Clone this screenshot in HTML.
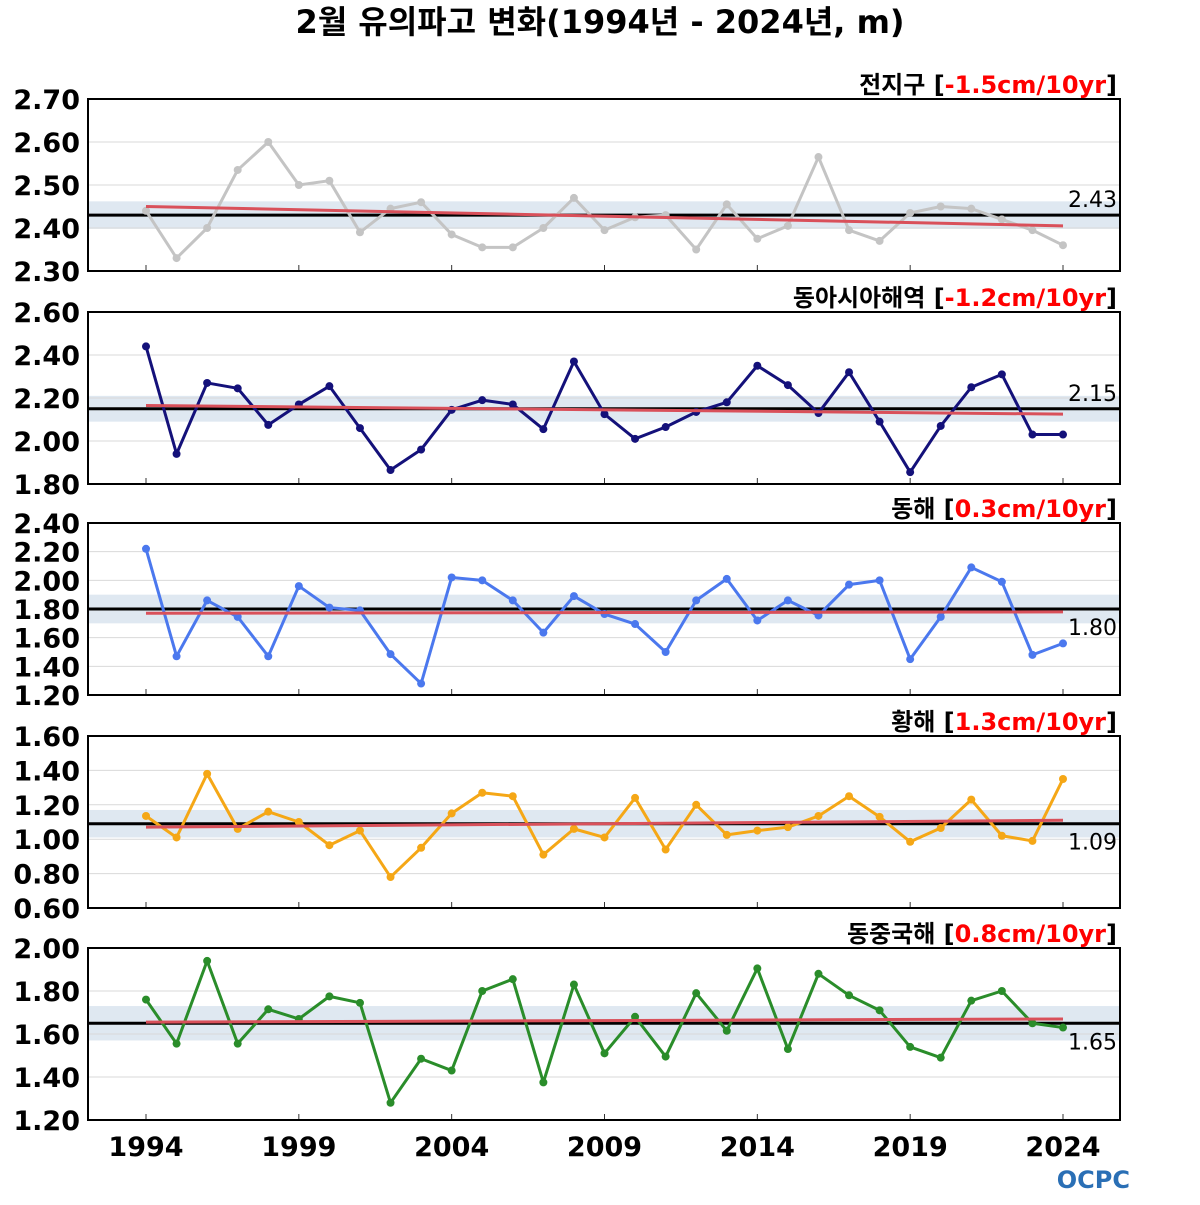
<!DOCTYPE html>
<html><head><meta charset="utf-8"><style>
body{margin:0;background:#fff;width:1200px;height:1200px;overflow:hidden}
svg text{font-family:"DejaVu Sans","Noto Sans CJK KR",sans-serif}
</style></head><body>
<svg id="c" width="1200" height="1200" xmlns="http://www.w3.org/2000/svg">
<text x="600" y="33" text-anchor="middle" font-size="32" font-weight="bold">2월 유의파고 변화(1994년 - 2024년, m)</text>
<text x="1130" y="1188" text-anchor="end" font-size="24" font-weight="bold" fill="#2a6fb5">OCPC</text>
</svg>
<script>
const years=[];for(let y=1994;y<=2024;y++)years.push(y);
const xTicks=[1994,1999,2004,2009,2014,2019,2024];
const globalVals=[2.44,2.33,2.40,2.535,2.60,2.50,2.51,2.39,2.445,2.46,2.385,2.355,2.355,2.40,2.47,2.395,2.425,2.43,2.35,2.455,2.375,2.405,2.565,2.395,2.37,2.435,2.45,2.445,2.42,2.395,2.36];
const eastAsiaVals=[2.44,1.94,2.27,2.245,2.075,2.17,2.255,2.06,1.865,1.96,2.145,2.19,2.17,2.055,2.37,2.125,2.01,2.065,2.135,2.18,2.35,2.26,2.13,2.32,2.09,1.855,2.07,2.25,2.31,2.03,2.03];
const eastSeaVals=[2.22,1.47,1.86,1.745,1.47,1.96,1.81,1.79,1.485,1.28,2.02,2.00,1.86,1.635,1.89,1.765,1.695,1.50,1.86,2.01,1.72,1.86,1.755,1.97,2.00,1.45,1.745,2.09,1.99,1.48,1.56];
const yellowSeaVals=[1.135,1.01,1.38,1.06,1.16,1.10,0.965,1.05,0.78,0.95,1.15,1.27,1.25,0.91,1.06,1.01,1.24,0.94,1.20,1.025,1.05,1.07,1.135,1.25,1.13,0.985,1.065,1.23,1.02,0.99,1.35];
const ecsVals=[1.76,1.555,1.94,1.555,1.715,1.67,1.775,1.745,1.28,1.485,1.43,1.80,1.855,1.375,1.83,1.51,1.68,1.495,1.79,1.615,1.905,1.53,1.88,1.78,1.71,1.54,1.49,1.755,1.80,1.65,1.63];
const panelNames=["전지구","동아시아해역","동해","황해","동중국해"];
const panelTrends=["-1.5cm/10yr","-1.2cm/10yr","0.3cm/10yr","1.3cm/10yr","0.8cm/10yr"];
const panelMeans=[2.43,2.15,1.80,1.09,1.65];
const panelBands=[0.032,0.06,0.1,0.08,0.08];
const trendStart=[2.45,2.165,1.77,1.07,1.655];
const trendEnd=[2.405,2.125,1.78,1.11,1.67];
const yTicks=[[2.30,2.40,2.50,2.60,2.70],[1.80,2.00,2.20,2.40,2.60],[1.20,1.40,1.60,1.80,2.00,2.20,2.40],[0.60,0.80,1.00,1.20,1.40,1.60],[1.20,1.40,1.60,1.80,2.00]];
const series=[globalVals,eastAsiaVals,eastSeaVals,yellowSeaVals,ecsVals];
const colors=["#c4c4c4","#14117a","#4b78ee","#f5a716","#2a8d2a"];
const tops=[99,312,523,736,948],H=172,L=88,R=1120;
const svg=document.getElementById('c');const NS="http://www.w3.org/2000/svg";
function mk(t,a,p){const e=document.createElementNS(NS,t);for(const k in a)e.setAttribute(k,a[k]);(p||svg).appendChild(e);return e;}
const xs=y=>146+(y-1994)*(1063-146)/30;
for(let i=0;i<5;i++){
 const tk=yTicks[i],mn=tk[0],mx=tk[tk.length-1],top=tops[i];
 const ys=v=>top+H-(v-mn)/(mx-mn)*H;
 const g=mk('g',{});
 
 
 mk('rect',{x:L,y:ys(panelMeans[i]+panelBands[i]),width:R-L,height:ys(panelMeans[i]-panelBands[i])-ys(panelMeans[i]+panelBands[i]),fill:'#dfe8f1'},g);
 tk.forEach(v=>{
  if(v!==mn&&v!==mx)mk('line',{x1:L,x2:R,y1:ys(v),y2:ys(v),stroke:'#d9d9d9','stroke-width':1},g);
  const t=mk('text',{x:80,y:ys(v)+10,'text-anchor':'end','font-size':27,'font-weight':'bold'},g);t.textContent=v.toFixed(2);
  
  
 });
 xTicks.forEach(y=>mk('line',{x1:xs(y),x2:xs(y),y1:top+H,y2:top+H-6,stroke:'#333','stroke-width':1},g));
 mk('line',{x1:L,x2:R,y1:ys(panelMeans[i]),y2:ys(panelMeans[i]),stroke:'#000','stroke-width':3},g);
 const pts=series[i].map((v,j)=>xs(years[j])+','+ys(v)).join(' ');
 const pl=mk('polyline',{points:pts,fill:'none',stroke:colors[i],'stroke-width':3,'stroke-linejoin':'round'},g);
 
 
 series[i].forEach((v,j)=>{const c=mk('circle',{cx:xs(years[j]),cy:ys(v),r:4,fill:colors[i]},g);
  
  });
 const tl=mk('line',{x1:xs(1994),x2:xs(2024),y1:ys(trendStart[i]),y2:ys(trendEnd[i]),stroke:'#d9505a','stroke-width':3},g);
 
 
 mk('rect',{x:L,y:top,width:R-L,height:H,fill:'none',stroke:'#000','stroke-width':2},g);
 const mt=mk('text',{x:1117,y:ys(panelMeans[i])-8,'text-anchor':'end','font-size':22},g);mt.textContent=panelMeans[i].toFixed(2);
 if(i>=2){mt.setAttribute('y',ys(panelMeans[i])+26);}
 
 
 const lt=mk('text',{x:1117,y:top-6,'text-anchor':'end','font-size':24,'font-weight':'bold'},g);
 
 
 lt.innerHTML=panelNames[i]+' [<tspan fill="#f00">'+panelTrends[i]+'</tspan>]';
}
xTicks.forEach(y=>{const t=mk('text',{x:xs(y),y:1156,'text-anchor':'middle','font-size':27,'font-weight':'bold'});t.textContent=y;
 
 });
</script>
</body></html>
